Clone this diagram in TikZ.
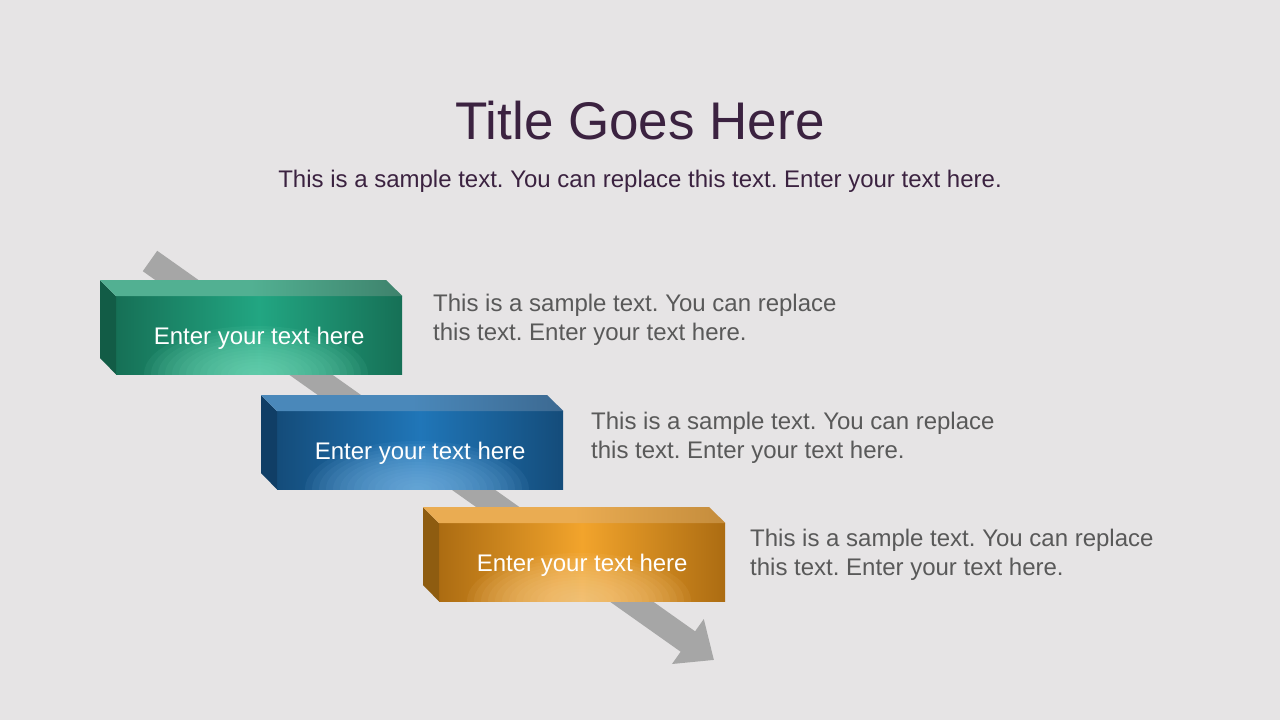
\documentclass[tikz,border=0pt]{standalone}
\usepackage{fontspec}
\setmainfont{Liberation Sans}
\usetikzlibrary{arrows.meta}
\frenchspacing

\definecolor{bg}{RGB}{230,228,229}
\definecolor{titlecol}{RGB}{59,34,64}
\definecolor{desccol}{RGB}{89,89,89}
\definecolor{arrowcol}{RGB}{166,166,166}
% green box
\definecolor{grnTop}{RGB}{82,176,146}
\definecolor{grnTopEnd}{RGB}{62,130,108}
\definecolor{grnFront}{RGB}{34,166,130}
\definecolor{grnEdge}{RGB}{22,112,86}
\definecolor{grnGlow}{RGB}{125,222,190}
\definecolor{grnSide}{RGB}{18,92,70}
% blue box
\definecolor{bluTop}{RGB}{74,136,186}
\definecolor{bluTopEnd}{RGB}{60,105,145}
\definecolor{bluFront}{RGB}{32,118,184}
\definecolor{bluEdge}{RGB}{20,76,122}
\definecolor{bluGlow}{RGB}{130,186,230}
\definecolor{bluSide}{RGB}{16,62,102}
% orange box
\definecolor{orgTop}{RGB}{234,172,82}
\definecolor{orgTopEnd}{RGB}{196,140,60}
\definecolor{orgFront}{RGB}{242,164,44}
\definecolor{orgEdge}{RGB}{172,108,18}
\definecolor{orgGlow}{RGB}{250,208,146}
\definecolor{orgSide}{RGB}{142,92,16}

\begin{document}
\begin{tikzpicture}[x=1pt,y=-1pt,
    titletext/.style={text=titlecol,font=\fontsize{53}{60}\selectfont,inner sep=0},
    subtext/.style={text=titlecol,font=\fontsize{24}{29}\selectfont,inner sep=0},
    desctext/.style={text=desccol,font=\fontsize{24}{29}\selectfont,align=left,inner sep=0},
    boxtext/.style={text=white,font=\fontsize{24}{29}\selectfont,minimum width=286,minimum height=78,
        inner sep=0,text height=22pt,text depth=3pt}]
    \useasboundingbox (0,0) rectangle (1280,720);
    \fill[bg] (0,0) rectangle (1280,720);
    % title
    \node[titletext,anchor=base] (title) at (640,139) {Title Goes Here};
    \node[subtext,anchor=base] (subtitle) at (640,187) {This is a sample text. You can replace this text. Enter your text here.};
    % arrow behind the boxes
    \coordinate (arrowstart) at (150,261);
    \coordinate (arrowtip) at (714,660);
    \draw[arrowcol,line width=25,-{Triangle[length=32pt,width=53pt]}] (arrowstart) -- (arrowtip);
    % boxes
    \foreach \i/\x/\y/\c/\dx/\dy in {1/116/296/grn/433/320, 2/277/411/blu/591/438, 3/439/523/org/750/555}{
        \shade[left color=\c Edge,right color=\c Edge,middle color=\c Front] (\x,\y) rectangle ++(286,78);
        \begin{scope}
            \clip (\x,\y) rectangle ++(286,78);
            \foreach \r in {1,...,16}
                \fill[\c Glow,fill opacity=0.08] (\x+140,\y+78) ellipse [x radius=7*\r,y radius=3*\r];
        \end{scope}
        \node[boxtext,anchor=north west] (box\i) at (\x,\y) {Enter your text here};
        \fill[\c Side] (box\i.north west) -- ++(-16,-16) -- ++(0,78) -- (box\i.south west) -- cycle;
        \shade[left color=\c Top,right color=\c TopEnd,middle color=\c Top] (box\i.north west) -- ++(-16,-16) -- ++(286,0) -- (box\i.north east) -- cycle;
        \node[desctext,anchor=west] (desc\i) at (\dx,\dy) {This is a sample text. You can replace\\this text. Enter your text here.};
    }
\end{tikzpicture}
\end{document}
